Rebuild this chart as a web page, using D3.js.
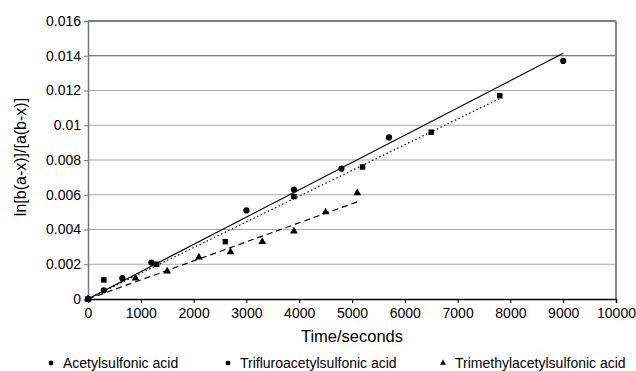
<!DOCTYPE html>
<html>
<head>
<meta charset="utf-8">
<script src="https://cdn.jsdelivr.net/npm/d3@7"></script>
<style>
  body { margin: 0; background: #fff; }
  text { font-family: "Liberation Sans", Arial, sans-serif; }
</style>
</head>
<body>
<div id="grafico"></div>
<script>
// Datos
const acetylTime = [0, 300, 650, 1200, 3000, 3900, 4800, 5700, 9000];
const acetylVal = [0, 0.0005, 0.0012, 0.0021, 0.0051, 0.0063, 0.0075, 0.0093, 0.0137];

const trifluroTime = [0, 300, 1300, 2600, 3900, 5200, 6500, 7800];
const trifluroVal = [0, 0.0011, 0.002, 0.0033, 0.0059, 0.0076, 0.0096, 0.0117];

const trimethylTime = [0, 900, 1500, 2100, 2700, 3300, 3900, 4500, 5100];
const trimethylVal = [0, 0.0012, 0.0016, 0.0024, 0.0027, 0.0033, 0.0039, 0.005, 0.0061];

const seriesNames = ["Acetylsulfonic acid", "Trifluroacetylsulfonic acid", "Trimethylacetylsulfonic acid"];
const xTicks = [0, 1000, 2000, 3000, 4000, 5000, 6000, 7000, 8000, 9000, 10000];
const yTicks = [0, 0.002, 0.004, 0.006, 0.008, 0.01, 0.012, 0.014, 0.016];

const series = [
    { name: seriesNames[0], pts: acetylTime.map((t, i) => ({ x: t, y: acetylVal[i] })), symbol: d3.symbolCircle, size: 30, dash: null },
    { name: seriesNames[1], pts: trifluroTime.map((t, i) => ({ x: t, y: trifluroVal[i] })), symbol: d3.symbolSquare, size: 30, dash: "1.5,2.5" },
    { name: seriesNames[2], pts: trimethylTime.map((t, i) => ({ x: t, y: trimethylVal[i] })), symbol: d3.symbolTriangle, size: 26, dash: "6,4" }
];

const svg = d3.select("#grafico")
    .append("svg")
    .attr("width", 636)
    .attr("height", 371);

const x = d3.scaleLinear().domain([0, 10000]).range([88, 616]);
const y = d3.scaleLinear().domain([0, 0.016]).range([299, 21]);

// Líneas de cuadrícula
svg.append("g")
    .selectAll("line")
    .data(yTicks.filter(v => v > 0 && v < 0.016))
    .enter()
    .append("line")
    .attr("x1", 88).attr("x2", 616)
    .attr("y1", d => y(d)).attr("y2", d => y(d))
    .attr("stroke", d => d === 0.014 ? "#555" : "#aaa")
    .attr("stroke-width", 1);

// Borde superior y derecho
svg.append("line").attr("x1", 88).attr("x2", 616).attr("y1", 21).attr("y2", 21)
    .attr("stroke", "#000").attr("stroke-width", 1.2);
svg.append("line").attr("x1", 616).attr("x2", 616).attr("y1", 21).attr("y2", 299)
    .attr("stroke", "#888").attr("stroke-width", 2);

// Ejes
const ejeY = svg.append("g")
    .attr("transform", "translate(88,0)")
    .call(d3.axisLeft(y).tickValues(yTicks).tickFormat(d => d3.format("")(+d.toFixed(3))).tickSize(4).tickPadding(3));
ejeY.select(".domain").attr("stroke", "#777").attr("stroke-width", 1.5);
ejeY.selectAll(".tick line").attr("stroke", "#777");
ejeY.selectAll("text").attr("font-size", 14).attr("font-family", "Liberation Sans, Arial, sans-serif").attr("fill", "#000");

const ejeX = svg.append("g")
    .attr("transform", "translate(0,299)")
    .call(d3.axisBottom(x).tickValues(xTicks).tickFormat(d3.format("d")).tickSize(4).tickPadding(5));
ejeX.select(".domain").attr("stroke", "#000").attr("stroke-width", 1.5);
ejeX.selectAll(".tick line").attr("stroke", "#000");
ejeX.selectAll("text").attr("font-size", 14).attr("font-family", "Liberation Sans, Arial, sans-serif").attr("fill", "#000");

// Líneas de tendencia (mínimos cuadrados por el origen)
series.forEach(s => {
    const slope = d3.sum(s.pts, p => p.x * p.y) / d3.sum(s.pts, p => p.x * p.x);
    const xMax = d3.max(s.pts, p => p.x);
    const line = d3.line().x(d => x(d)).y(d => y(slope * d));
    svg.append("path")
        .datum([0, xMax])
        .attr("fill", "none")
        .attr("stroke", "#000")
        .attr("stroke-width", 1.2)
        .attr("stroke-dasharray", s.dash)
        .attr("d", line);
});

// Puntos
series.forEach(s => {
    svg.append("g")
        .selectAll("path")
        .data(s.pts)
        .enter()
        .append("path")
        .attr("transform", d => `translate(${x(d.x)},${y(d.y)})`)
        .attr("d", d3.symbol().type(s.symbol).size(s.size))
        .attr("fill", "#000");
});

// Etiquetas de los ejes
svg.append("text")
    .attr("x", 352)
    .attr("y", 342)
    .attr("text-anchor", "middle")
    .attr("font-size", 16.5)
    .text("Time/seconds");

svg.append("text")
    .attr("transform", "rotate(-90)")
    .attr("x", -157)
    .attr("y", 26)
    .attr("text-anchor", "middle")
    .attr("font-size", 16)
    .text("ln[b(a-x)]/[a(b-x)]");

// Leyenda
const legendX = [51, 228, 443];
series.forEach((s, i) => {
    svg.append("path")
        .attr("transform", `translate(${legendX[i]},363)`)
        .attr("d", d3.symbol().type(s.symbol).size(s.size * 0.6))
        .attr("fill", "#000");
    svg.append("text")
        .attr("x", legendX[i] + 12)
        .attr("y", 368)
        .attr("font-size", 14)
        .text(s.name);
});
</script>
</body>
</html>
